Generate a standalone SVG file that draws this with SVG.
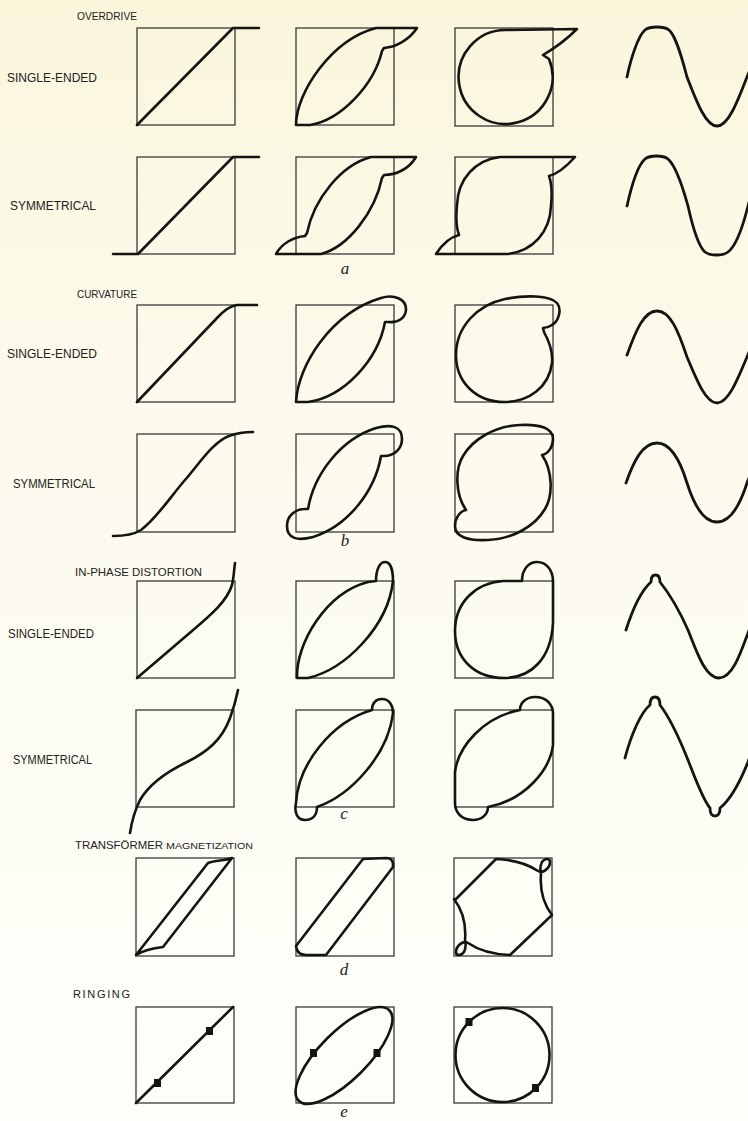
<svg xmlns="http://www.w3.org/2000/svg" width="748" height="1121" viewBox="0 0 748 1121">
<defs>
<linearGradient id="bg" x1="0" y1="0" x2="0" y2="1">
<stop offset="0" stop-color="#faf6dc"/>
<stop offset="0.35" stop-color="#fcfaec"/>
<stop offset="1" stop-color="#fefefa"/>
</linearGradient>
</defs>
<style>
.box{fill:none;stroke:#3a3a36;stroke-width:1.3}
.crv{fill:none;stroke:#141412;stroke-width:2.6;stroke-linejoin:round;stroke-linecap:round}
.sine{fill:none;stroke:#141412;stroke-width:2.8;stroke-linejoin:round;stroke-linecap:round}
.dot{fill:#141412}
.lbl{font-family:"Liberation Sans",Arial,sans-serif;font-size:12px;fill:#222220}
.hdr{font-family:"Liberation Sans",Arial,sans-serif;font-size:11px;fill:#222220}
.let{font-family:"Liberation Serif",serif;font-style:italic;font-size:17px;fill:#222220;text-anchor:middle}
</style>
<rect width="748" height="1121" fill="url(#bg)"/>

<g id="labels">
<text class="hdr" x="77" y="20" textLength="60" lengthAdjust="spacingAndGlyphs">OVERDRIVE</text>
<text class="lbl" x="7" y="82" textLength="90" lengthAdjust="spacingAndGlyphs">SINGLE-ENDED</text>
<text class="lbl" x="10" y="210" textLength="86" lengthAdjust="spacingAndGlyphs">SYMMETRICAL</text>
<text class="hdr" x="77" y="298" textLength="60" lengthAdjust="spacingAndGlyphs">CURVATURE</text>
<text class="lbl" x="7" y="358" textLength="90" lengthAdjust="spacingAndGlyphs">SINGLE-ENDED</text>
<text class="lbl" x="13" y="488" textLength="82" lengthAdjust="spacingAndGlyphs">SYMMETRICAL</text>
<text class="hdr" x="75" y="576" textLength="127" lengthAdjust="spacingAndGlyphs">IN-PHASE DISTORTION</text>
<text class="lbl" x="8" y="638" textLength="86" lengthAdjust="spacingAndGlyphs">SINGLE-ENDED</text>
<text class="lbl" x="13" y="764" textLength="79" lengthAdjust="spacingAndGlyphs">SYMMETRICAL</text>
<text class="hdr" x="75" y="849"><tspan textLength="88" lengthAdjust="spacingAndGlyphs">TRANSFÖRMER</tspan><tspan x="166" font-size="9" textLength="87" lengthAdjust="spacingAndGlyphs">MAGNETIZATION</tspan></text>
<text class="hdr" x="73" y="998" textLength="57" lengthAdjust="spacing">RINGING</text>
<text class="let" x="345" y="274">a</text>
<text class="let" x="345" y="546">b</text>
<text class="let" x="344" y="819">c</text>
<text class="let" x="344" y="975">d</text>
<text class="let" x="344" y="1117">e</text>
</g>

<!-- column 1: transfer characteristics -->
<g id="r1c1" transform="translate(137,28)"><rect class="box" width="98" height="97"/><path class="crv" d="M0,97 L96,0 L122,0"/></g>
<g id="r2c1" transform="translate(137,157)"><rect class="box" width="98" height="97"/><path class="crv" d="M-24,97 L1,97 L96,0 L122,0"/></g>
<g id="r3c1" transform="translate(137,305)"><rect class="box" width="98" height="97"/><path class="crv" d="M0,97 L80,13 Q91,1 100,0 L120,0"/></g>
<g id="r4c1" transform="translate(137,434)"><rect class="box" width="98" height="98"/><path class="crv" d="M-24,102 C-12,102 -4,101 4,96 C20,84 34,62 48,46 C62,30 76,8 92,2 C100,-1 108,-2 116,-2"/></g>
<g id="r5c1" transform="translate(137,581)"><rect class="box" width="98" height="97"/><path class="crv" d="M0,97 L55,50 C75,33 90,20 95,4 C97,-4 97,-12 98,-18"/></g>
<g id="r6c1" transform="translate(136,710)"><rect class="box" width="98" height="97"/><path class="crv" d="M-6,123 C-4,110 -1,100 4,90 C11,78 26,64 51,52 C71,42 86,30 94,8 C97,0 100,-10 102,-20"/></g>
<g id="r7c1" transform="translate(136,858)"><rect class="box" width="98" height="98"/><path class="crv" d="M0,97 L72,5 C80,2 88,3 96,0 L27,89 C18,90 8,92 0,97 Z"/></g>
<g id="r8c1" transform="translate(136,1007)"><rect class="box" width="98" height="96"/><path class="crv" d="M0,96 L97,0"/><rect class="dot" x="70" y="20" width="7" height="8"/><rect class="dot" x="18" y="72" width="7" height="8"/></g>

<!-- column 2 -->
<g id="r1c2" transform="translate(296,28)"><rect class="box" width="98" height="97"/><path class="crv" d="M0,97 C0,65 35,12 80,0 L121,0 C113,12 100,19 88,20 L86,23 C78,57 45,92 14,97 Z"/></g>
<g id="r2c2" transform="translate(296,157)"><rect class="box" width="98" height="97"/><path class="crv" d="M-20,97 C-14,86 -2,80 9,79 L11,76 C18,42 45,8 75,0 L120,0 C113,12 100,18 88,18 L86,21 C79,55 52,90 25,97 Z"/></g>
<g id="r3c2" transform="translate(296,305)"><rect class="box" width="98" height="97"/><path class="crv" d="M0,97 C2,60 35,8 85,-7 C98,-11 110,-6 110,4 C110,13 102,18 93,17 L89,17 C82,55 48,92 12,97 Z"/></g>
<g id="r4c2" transform="translate(296,434)"><rect class="box" width="98" height="98"/><path class="crv" d="M12,75 C18,40 45,5 80,-6 C95,-10 106,-8 106,5 C106,15 98,22 88,22 L85,22 C79,57 52,92 17,103 C2,107 -9,105 -9,92 C-9,82 -1,75 9,75 Z"/></g>
<g id="r5c2" transform="translate(296,581)"><rect class="box" width="98" height="97"/><path class="crv" d="M1,97 C0,62 30,12 72,1 L80,0 C80,-12 84,-19 89,-19 C94,-19 97,-12 97,0 C92,45 50,88 12,97 Z"/></g>
<g id="r6c2" transform="translate(296,710)"><rect class="box" width="98" height="97"/><path class="crv" d="M0,93 C2,55 35,12 76,0 C76,-7 80,-11 86,-11 C93,-11 97,-5 97,3 C92,45 55,85 21,97 C21,105 17,110 9,110 C1,110 -2,102 0,93 Z"/></g>
<g id="r7c2" transform="translate(296,858)"><rect class="box" width="98" height="98"/><path class="crv" d="M0,88 L67,1 L90,0 Q98,0 97,9 L30,97 L10,97 Q1,97 0,88 Z"/></g>
<g id="r8c2" transform="translate(296,1007)"><rect class="box" width="98" height="96"/><ellipse class="crv" cx="48" cy="48.5" rx="64" ry="24" transform="rotate(-45 48 48.5)"/><rect class="dot" x="14" y="42" width="7" height="8"/><rect class="dot" x="77.5" y="42" width="7" height="8"/></g>

<!-- column 3 -->
<g id="r1c3" transform="translate(455,28)"><rect class="box" width="98" height="98"/><path class="crv" d="M50,2 L122,1 C114,9 100,20 88,27 L94,31 A47,47 0 1 1 50,2 Z"/></g>
<g id="r2c3" transform="translate(455,157)"><rect class="box" width="98" height="97"/><path class="crv" d="M-19,97 C-12,86 -4,80 4,78 C1,70 1,58 2,48 C3,22 20,3 45,0 L120,0 C111,10 102,17 94,19 C97,27 97,39 96,49 C95,75 78,94 53,97 Z"/></g>
<g id="r3c3" transform="translate(455,305)"><rect class="box" width="98" height="97"/><path class="crv" d="M1,50 C1,22 22,0 50,-6 C70,-10 95,-10 102,-2 C107,4 104,16 97,20 C94,22 91,23 88,23 L89,27 C95,38 98,48 97,58 C94,82 74,97 49,97 C22,97 1,78 1,50 Z"/></g>
<g id="r4c3" transform="translate(455,434)"><rect class="box" width="98" height="98"/><path class="crv" d="M11,76 C0,60 0,35 8,22 C18,5 40,-8 65,-9 C85,-10 98,-6 98,5 C98,13 93,20 87,21 C98,37 98,62 90,75 C80,92 58,105 33,106 C13,107 0,103 0,92 C0,84 5,77 11,76 Z"/></g>
<g id="r5c3" transform="translate(455,581)"><rect class="box" width="98" height="97"/><path class="crv" d="M0,50 C0,22 20,2 48,0 L67,0 C67,-12 74,-19 82,-19 C92,-19 98,-10 98,0 L98,42 C96,78 76,97 49,97 C20,97 0,78 0,50 Z"/></g>
<g id="r6c3" transform="translate(455,710)"><rect class="box" width="98" height="97"/><path class="crv" d="M65,0 C65,-8 72,-13 80,-13 C91,-13 98,-6 98,4 L98,35 C95,60 70,90 33,97 C33,105 26,110 18,110 C7,110 0,103 0,93 L0,62 C3,37 28,7 65,0 Z"/></g>
<g id="r7c3" transform="translate(454,858)"><rect class="box" width="98" height="98"/><path class="crv" d="M1,42 L42,1 Q68,2 84,13 C89,16 96,10 96,4 C96,0 91,0 88,4 C86,8 86,12 87,16 Q85,40 98,57 L56,97 Q30,96 14,85 C9,82 2,88 2,94 C2,98 7,98 10,94 C12,90 12,86 11,82 Q13,58 0,41 Z"/></g>
<g id="r8c3" transform="translate(454,1007)"><rect class="box" width="98" height="96"/><circle class="crv" cx="48.5" cy="48" r="47"/><rect class="dot" x="11.5" y="11" width="7" height="8"/><rect class="dot" x="78" y="77" width="7" height="8"/></g>

<!-- column 4: waveforms -->
<g id="r1c4"><path class="sine" d="M627,77 C631,58 638,36 645,30 C650,26 664,26 669,30 C676,36 682,58 687,77 C697,103 706,126 717,126 C728,126 737,103 747,77 C752,65 756,55 760,45"/></g>
<g id="r2c4"><path class="sine" d="M627,206 C631,188 637,166 645,159 C650,155 663,155 668,159 C676,166 683,188 688,206 C692,224 698,246 705,252 C710,256 723,256 728,252 C736,246 743,226 748,206 C751,195 755,180 760,170"/></g>
<g id="r3c4"><path class="sine" d="M627,355 C636,330 644,311 657,311 C670,311 678,330 687,357 C697,381 706,403 717,403 C728,403 737,381 747,357 C752,345 756,335 760,327"/></g>
<g id="r4c4"><path class="sine" d="M626,483 C634,460 643,443 657,443 C671,443 680,460 687,483 C694,505 703,522 717,522 C731,522 740,505 747,483 C752,470 756,462 760,455"/></g>
<g id="r5c4"><path class="sine" d="M626,630 C633,608 642,590 651,582 C651,577 653,575 655.5,575 C658,575 660,577 660,582 C668,592 680,612 688,630 C696,650 705,678 719,678 C732,678 740,655 748,633 C752,622 756,612 760,605"/></g>
<g id="r6c4"><path class="sine" d="M625,758 C631,735 641,712 650,705 C650,700 652,697 655,697 C658,697 660,700 660,705 C670,718 680,740 688,760 C695,778 703,800 710,808 C710,813 712,816 715,816 C718,816 720,813 720,808 C730,800 740,782 748,762 C752,750 756,740 760,730"/></g>
</svg>
